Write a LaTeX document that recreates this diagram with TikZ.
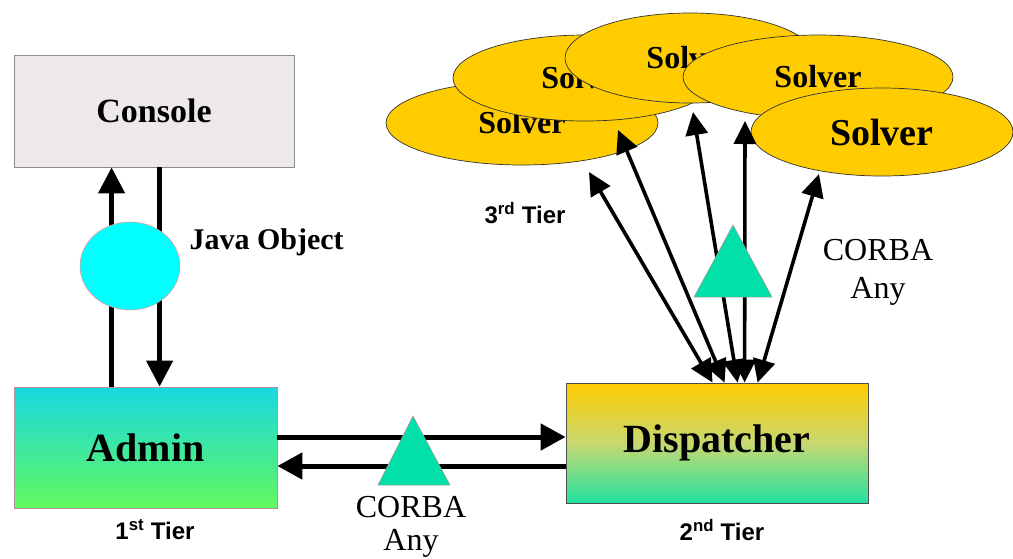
\documentclass[tikz,border=0pt]{standalone}
\usepackage{fontspec}
\setmainfont{Liberation Serif}
\setsansfont{Liberation Sans}
\usetikzlibrary{arrows.meta,shapes.geometric}

\definecolor{consolefill}{HTML}{EDE8EC}
\definecolor{solvergold}{HTML}{FFCC00}
\definecolor{corbateal}{HTML}{00E0A8}
\definecolor{javacyan}{HTML}{00FFFF}
\definecolor{admintop}{HTML}{18D8E2}
\definecolor{adminbot}{HTML}{62F85E}
\definecolor{disptop}{HTML}{FFCC00}
\definecolor{dispmid}{HTML}{C8D870}
\definecolor{dispbot}{HTML}{22E2A2}
\definecolor{edgepink}{HTML}{B89098}

\tikzset{
  box/.style={rectangle, inner sep=0pt, line width=0.8pt},
  solver/.style={ellipse, draw=black!80, line width=0.7pt, fill=solvergold,
                 inner sep=0pt, font=\bfseries\fontsize{32}{34}\selectfont},
  serifbig/.style={font=\bfseries\fontsize{40}{44}\selectfont},
  corba/.style={font=\fontsize{32}{34}\selectfont},
  tier/.style={font=\sffamily\bfseries\fontsize{24}{26}\selectfont},
  link/.style={line width=3.6pt, {Triangle[length=23pt,width=22pt]}-{Triangle[length=23pt,width=22pt]}},
  uparrow/.style={line width=4.5pt, -{Triangle[length=26pt,width=26pt]}},
  flow/.style={line width=5pt, -{Triangle[length=25pt,width=26pt]}},
  wedge/.style={fill=corbateal, draw=edgepink, line width=0.5pt}
}

\begin{document}
\begin{tikzpicture}[x=1pt,y=-1pt]
\useasboundingbox (0,0) rectangle (1013,558);
\fill[white] (0,0) rectangle (1013,558);

% --- first tier: console and admin ---
\node[box, draw=black!45, fill=consolefill, minimum width=280pt, minimum height=112pt,
      font=\bfseries\fontsize{34}{36}\selectfont] (console) at (154,111) {Console};
\node[box, draw=edgepink, top color=admintop, bottom color=adminbot,
      minimum width=263pt, minimum height=121pt, serifbig] (admin) at (145.5,447.5) {Admin};

\draw[uparrow] ([xshift=98pt]admin.north west) -- ([xshift=98pt]console.south west);
\draw[uparrow] ([xshift=146pt]console.south west) -- ([xshift=146pt]admin.north west);

\node[ellipse, fill=javacyan, draw=red!45, line width=0.5pt, minimum width=100pt,
      minimum height=88pt, inner sep=0pt] (javaobj) at (130,266) {};
\node[font=\bfseries\fontsize{30}{32}\selectfont, anchor=west] (javalabel) at (186,242) {Java Object};

\node[tier] (tier1) at (155,530) {1\textsuperscript{st} Tier};

% --- second tier: dispatcher ---
\node[box, draw=black!70, top color=disptop, bottom color=dispbot, middle color=dispmid,
      minimum width=302pt, minimum height=120pt, serifbig] (disp) at (717,443) {Dispatcher};
\node[tier] (tier2) at (722,530) {2\textsuperscript{nd} Tier};

\draw[flow] ([yshift=10.5pt]admin.east) -- ([yshift=6pt]disp.west);
\draw[flow] ([yshift=-23pt]disp.west) -- ([yshift=-18.5pt]admin.east);

\filldraw[wedge] (413,416) -- (450,485) -- (378,485) -- cycle;
\node[corba] (corba1) at (411,507) {CORBA};
\node[corba] (any1) at (411,543) {Any};

% --- third tier: solver pool ---
\node[solver, minimum width=272pt, minimum height=84pt] (solA) at (522,123) {Solver};
\node[solver, minimum width=264pt, minimum height=86pt] (solB) at (585,78) {Solver};
\node[solver, minimum width=250pt, minimum height=90pt] (solC) at (690,58) {Solver};
\node[solver, minimum width=270pt, minimum height=84pt] (solD) at (818,77) {Solver};
\node[solver, minimum width=262pt, minimum height=88pt,
      font=\bfseries\fontsize{38}{40}\selectfont] (solE) at (882,132) {Solver};

\coordinate (s1) at (589,172);
\coordinate (s2) at (618,130);
\coordinate (s3) at (693,112);
\coordinate (s4) at (745,121);
\coordinate (s5) at (819,174);

\draw[link] ([xshift=147pt]disp.north west) -- (s1);
\draw[link] ([xshift=159pt]disp.north west) -- (s2);
\draw[link] ([xshift=172pt]disp.north west) -- (s3);
\draw[link] ([xshift=179pt]disp.north west) -- (s4);
\draw[link] ([xshift=192pt]disp.north west) -- (s5);

\filldraw[wedge] (733,225) -- (772,297) -- (694,297) -- cycle;

\node[tier] (tier3) at (525,213) {3\textsuperscript{rd} Tier};
\node[corba] (corba2) at (878,250) {CORBA};
\node[corba] (any2) at (878,291) {Any};
\end{tikzpicture}
\end{document}
